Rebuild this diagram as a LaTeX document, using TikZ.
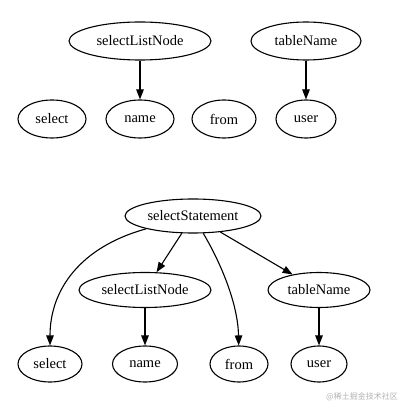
\documentclass[tikz,border=0pt]{standalone}
\usepackage{fontspec}
\setmainfont{Liberation Serif}
\newfontfamily\cjk{Noto Sans CJK SC}
\usetikzlibrary{shapes.geometric,arrows.meta}
\begin{document}
\begin{tikzpicture}[x=1pt,y=1pt,
  nd/.style={ellipse,draw,line width=1.1pt,inner sep=0pt,font=\fontsize{14.5}{16}\selectfont},
  arr/.style={line width=1.1pt,-{Triangle[length=10pt,width=7.5pt]}}]
\useasboundingbox (0,0) rectangle (401,405);
% top group
\node[nd,minimum width=142,minimum height=38] (sln1) at (140,364) {selectListNode};
\node[nd,minimum width=110,minimum height=38] (tn1) at (306,364) {tableName};
\node[nd,minimum width=68,minimum height=38] (sel1) at (52,286) {select};
\node[nd,minimum width=68,minimum height=38] (name1) at (140,286) {name};
\node[nd,minimum width=64,minimum height=38] (from1) at (224,286) {from};
\node[nd,minimum width=60,minimum height=38] (user1) at (306,286) {user};
\draw[arr] (sln1) -- (name1);
\draw[arr] (tn1) -- (user1);
% bottom group
\node[nd,minimum width=136,minimum height=34] (ss) at (193,189) {selectStatement};
\node[nd,minimum width=132,minimum height=35] (sln2) at (145,115) {selectListNode};
\node[nd,minimum width=102,minimum height=35] (tn2) at (319,115) {tableName};
\node[nd,minimum width=64,minimum height=36] (sel2) at (50,41) {select};
\node[nd,minimum width=65,minimum height=36] (name2) at (145,41) {name};
\node[nd,minimum width=58,minimum height=36] (from2) at (239,41) {from};
\node[nd,minimum width=56,minimum height=36] (user2) at (319,41) {user};
\draw[arr] (ss) .. controls (80,158) and (50,115) .. (sel2);
\draw[arr] (ss) -- (sln2);
\draw[arr] (ss) .. controls (222,140) and (238,100) .. (from2);
\draw[arr] (ss) -- (tn2);
\draw[arr] (sln2) -- (name2);
\draw[arr] (tn2) -- (user2);
% watermark
\node[font=\cjk\fontsize{8}{9}\selectfont,text=black!30,anchor=east,inner sep=0pt] (wm) at (398,8) {@稀土掘金技术社区};
\end{tikzpicture}
\end{document}
